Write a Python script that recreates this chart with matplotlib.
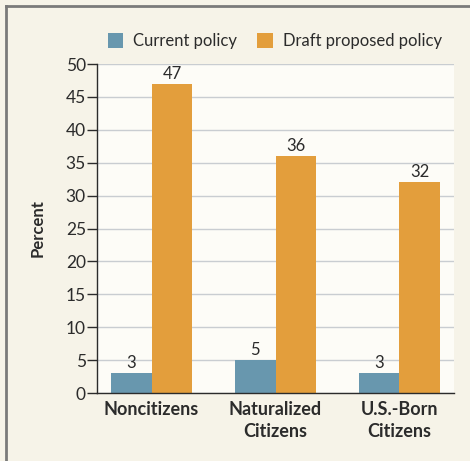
import matplotlib
matplotlib.use("Agg")
import matplotlib.pyplot as plt
import numpy as np
from matplotlib.patches import Patch
from matplotlib.lines import Line2D

categories = ["Noncitizens", "Naturalized\nCitizens", "U.S.-Born\nCitizens"]
current = [3, 5, 3]
draft = [47, 36, 32]
series_names = ["Current policy", "Draft proposed policy"]
yticks = [0, 5, 10, 15, 20, 25, 30, 35, 40, 45, 50]

plt.rcParams['font.family'] = ['Lato', 'DejaVu Sans']

c_blue = "#6897ae"
c_orange = "#e39e3c"
bg = "#f6f3e8"
plot_bg = "#fdfcf7"
txt = "#2b2b2b"

fig = plt.figure(figsize=(4.7, 4.61), dpi=100, facecolor=bg)
ax = fig.add_axes([97/470, 1-393/461, (454-97)/470, (393-64)/461])
ax.set_facecolor(plot_bg)

x = np.arange(len(categories))
w = 0.33
ax.bar(x - w/2, current, w, color=c_blue, zorder=3)
ax.bar(x + w/2, draft, w, color=c_orange, zorder=3)

for i in range(len(categories)):
    ax.text(x[i] - w/2, current[i] + 0.3, str(current[i]), ha='center', va='bottom',
            fontsize=12, color=txt)
    ax.text(x[i] + w/2, draft[i] + 0.3, str(draft[i]), ha='center', va='bottom',
            fontsize=12, color=txt)

ax.set_xlim(-0.44, 2.44)
ax.set_ylim(0, 50)
ax.set_yticks(yticks)
ax.set_yticklabels([str(t) for t in yticks], fontsize=12.5, color=txt)
ax.yaxis.grid(True, color="#c9cdd1", linewidth=1, zorder=0)
ax.set_axisbelow(True)
ax.tick_params(axis='y', length=7, width=1, color=txt, pad=1)
ax.tick_params(axis='x', length=0, pad=6)
ax.set_xticks(x)
ax.set_xticklabels(categories, fontsize=13, fontweight='bold', color=txt, linespacing=1.35)
for s in ['top', 'right']:
    ax.spines[s].set_visible(False)
for s in ['left', 'bottom']:
    ax.spines[s].set_color(txt)
    ax.spines[s].set_linewidth(1)
    ax.spines[s].set_zorder(4)

ax.set_ylabel("Percent", fontsize=12, fontweight='bold', color=txt)
ax.yaxis.set_label_coords(-0.145, 0.5)

handles = [Patch(facecolor=c_blue, edgecolor='none'), Patch(facecolor=c_orange, edgecolor='none')]
fig.legend(handles, series_names, loc='center', bbox_to_anchor=(275/470, 1-41/461),
           ncol=2, frameon=False, fontsize=12, handlelength=0.95, handleheight=1.0,
           handletextpad=0.6, columnspacing=1.2, labelcolor=txt)

# outer frame lines (left and top)
fig.add_artist(Line2D([5.5/470, 5.5/470], [0, 1-6/461], transform=fig.transFigure,
                      color="#7a7a7a", linewidth=2))
fig.add_artist(Line2D([5.5/470, 1], [1-6.5/461, 1-6.5/461], transform=fig.transFigure,
                      color="#7a7a7a", linewidth=2))

fig.savefig("out.png", dpi=100, facecolor=bg)
